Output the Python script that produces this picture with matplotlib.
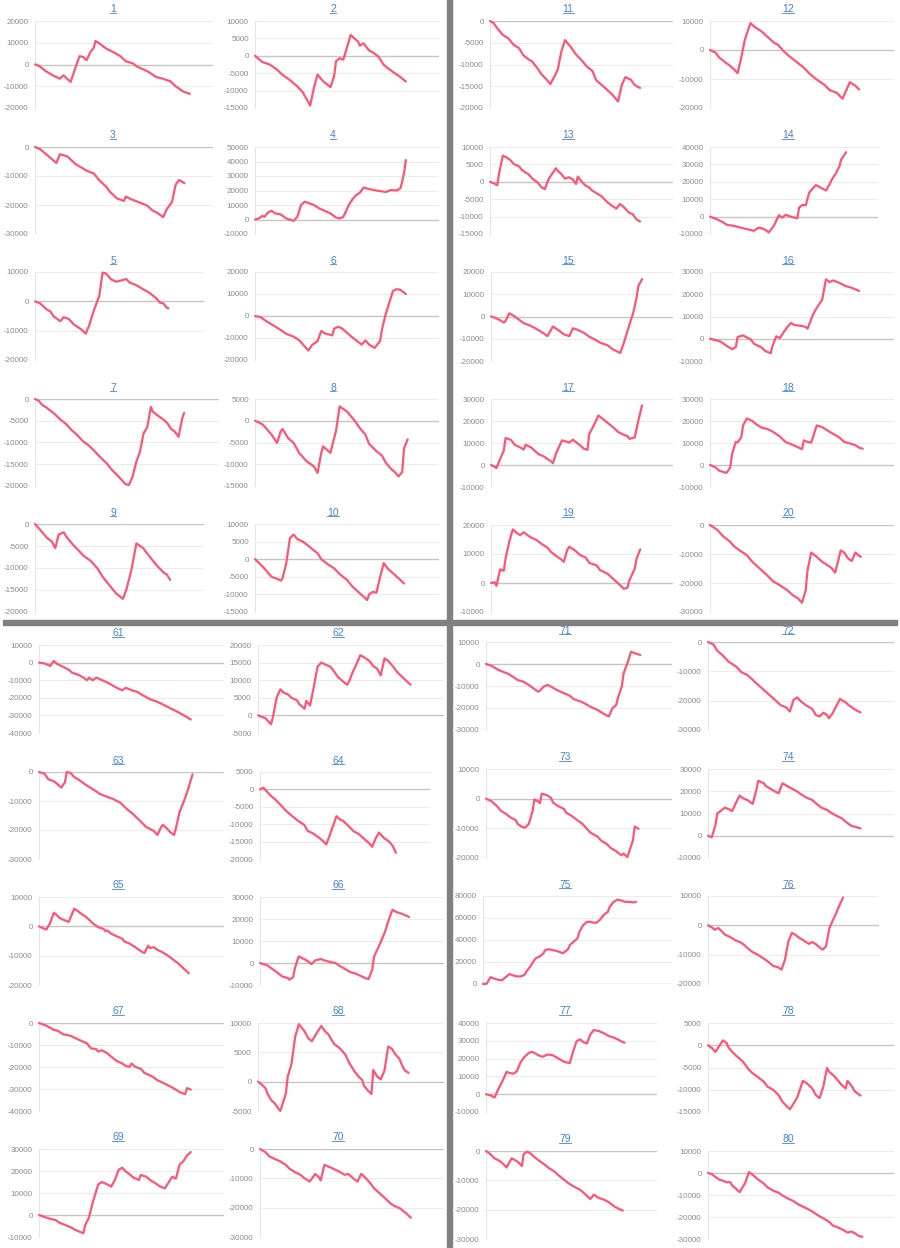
import matplotlib
matplotlib.use("Agg")
import matplotlib.pyplot as plt
from matplotlib.patches import Rectangle
from matplotlib.lines import Line2D

# --- DATA: cumulative P/L per account, (trade position 0-100, value) at turning points ---
t1 = [0, 2, 6, 10, 14, 16, 18, 20, 24, 25, 27, 29, 31, 33, 34, 36, 40, 44, 48, 51, 55, 57, 61, 64, 68, 72, 76, 79, 83, 87]
v1 = [0, -500, -3000, -5000, -6500, -5000, -6500, -8000, 1500, 3800, 3500, 2000, 5500, 7700, 10800, 9800, 7300, 5700, 3800, 1500, 500, -800, -2300, -3500, -5700, -6600, -7700, -10000, -12300, -13500]
t2 = [0, 4, 8, 12, 15, 19, 23, 26, 30, 32, 34, 37, 41, 43, 44, 46, 48, 52, 54, 56, 57, 59, 62, 64, 67, 70, 72, 76, 79, 82]
v2 = [0, -1800, -2500, -4000, -5500, -7000, -8800, -10500, -14300, -9200, -5400, -7300, -9000, -5900, -1600, -700, -1100, 6000, 5000, 4100, 2900, 3600, 1500, 1000, -200, -2600, -3500, -5000, -6100, -7400]
t3 = [0, 3, 8, 12, 14, 18, 20, 23, 27, 29, 33, 36, 40, 42, 46, 50, 51, 54, 59, 63, 66, 69, 72, 74, 77, 79, 81, 84]
v3 = [0, -800, -3400, -5500, -2500, -3200, -4300, -6000, -7400, -8200, -9100, -11400, -13700, -15400, -17700, -18600, -17100, -18000, -19200, -20200, -21900, -22800, -24200, -21500, -18900, -13000, -11400, -12500]
t4 = [0, 2, 4, 5, 7, 9, 11, 14, 17, 21, 23, 25, 27, 32, 35, 41, 44, 46, 48, 51, 53, 55, 57, 59, 62, 66, 71, 74, 77, 79, 80, 81, 82]
v4 = [0, 700, 2500, 1800, 4800, 6000, 4200, 3500, 700, -900, 1800, 10000, 12300, 10000, 7600, 4200, 1400, 700, 1800, 10000, 14000, 16800, 18500, 22000, 21000, 20000, 19000, 20300, 20000, 21500, 26000, 32000, 41000]
t5 = [0, 3, 7, 9, 11, 15, 17, 20, 23, 27, 30, 32, 35, 38, 40, 42, 45, 48, 51, 54, 56, 60, 64, 68, 72, 74, 76, 78, 79]
v5 = [0, -700, -2800, -3400, -5100, -6800, -5400, -6000, -7900, -9400, -11000, -8300, -2800, 1800, 9800, 9500, 7500, 6700, 7100, 7600, 6400, 5500, 4100, 2800, 900, -500, -700, -2200, -2400]
t6 = [0, 3, 6, 10, 14, 17, 21, 24, 29, 31, 34, 36, 38, 42, 43, 45, 47, 50, 52, 55, 58, 60, 62, 65, 68, 69, 71, 73, 75, 77, 79, 82]
v6 = [0, -500, -2300, -4300, -6400, -8100, -9400, -11000, -15700, -13200, -11400, -6800, -7900, -8800, -5800, -4900, -5500, -7600, -9100, -11100, -13000, -11100, -13000, -14500, -11400, -6100, 800, 6100, 11400, 12200, 11900, 10000]
t7 = [0, 2, 4, 6, 10, 14, 17, 20, 23, 26, 29, 32, 35, 39, 42, 44, 46, 49, 51, 53, 55, 57, 59, 61, 63, 64, 67, 70, 72, 74, 76, 78, 80, 81]
v7 = [0, -400, -1400, -1900, -3200, -4800, -5800, -7200, -8300, -9700, -10600, -11800, -13200, -14800, -16400, -17200, -18100, -19500, -19800, -17900, -14500, -12200, -7900, -6500, -1800, -2900, -3900, -4800, -5600, -6900, -7500, -8700, -4500, -3200]
t8 = [0, 4, 6, 9, 12, 14, 15, 18, 21, 24, 28, 32, 34, 36, 37, 40, 41, 43, 44, 46, 48, 50, 52, 54, 57, 60, 62, 66, 69, 71, 74, 76, 78, 80, 81, 83]
v8 = [0, -800, -1700, -3200, -5100, -2400, -1900, -4000, -5100, -7400, -9300, -10500, -12000, -7400, -5900, -7000, -7400, -4000, -2400, 3300, 2700, 2100, 1100, 100, -1700, -3200, -5300, -7000, -8000, -9600, -11100, -11800, -12800, -11800, -6300, -4300]
t9 = [0, 3, 7, 10, 12, 14, 17, 19, 22, 25, 29, 33, 37, 40, 44, 48, 52, 54, 57, 60, 64, 68, 72, 76, 78, 80]
v9 = [0, -1300, -3100, -4000, -5500, -2400, -1900, -3100, -4500, -5700, -7300, -8400, -10100, -12000, -13900, -15800, -17000, -15000, -10500, -4400, -5500, -7500, -9400, -11000, -11500, -12700]
t10 = [0, 4, 6, 9, 13, 14, 15, 17, 19, 21, 23, 26, 29, 32, 34, 36, 40, 43, 46, 50, 53, 57, 61, 62, 64, 66, 68, 70, 72, 75, 78, 81]
v10 = [0, -2000, -3200, -5000, -5800, -6100, -5400, -1100, 6000, 7000, 5700, 5000, 3800, 2500, 1700, 0, -1600, -2600, -4200, -5900, -7800, -9700, -11600, -10000, -9300, -9500, -5000, -1100, -2600, -4000, -5400, -6900]
t11 = [0, 2, 4, 5, 7, 10, 13, 16, 18, 21, 23, 26, 28, 31, 33, 35, 37, 39, 41, 44, 47, 50, 53, 56, 58, 61, 64, 67, 70, 72, 74, 77, 79, 82]
v11 = [0, -500, -1700, -2200, -3200, -4000, -5500, -6300, -7800, -8800, -9300, -10900, -12200, -13500, -14500, -12900, -11200, -7000, -4400, -5900, -7700, -9000, -10500, -11500, -13600, -14700, -15800, -17000, -18500, -14700, -12900, -13500, -14700, -15400]
t12 = [0, 3, 5, 8, 11, 13, 15, 17, 19, 22, 24, 28, 32, 35, 37, 40, 43, 47, 51, 54, 58, 62, 65, 69, 72, 76, 79, 81]
v12 = [0, -900, -2600, -4100, -5500, -6600, -8000, -2600, 3700, 9300, 8100, 6400, 4100, 2400, 1800, -400, -2100, -4100, -6100, -8100, -10200, -11900, -13800, -14800, -16800, -11100, -12300, -13600]
t13 = [0, 2, 4, 5, 7, 9, 11, 13, 16, 17, 19, 21, 23, 26, 28, 30, 32, 36, 37, 39, 41, 43, 45, 47, 48, 50, 52, 54, 56, 58, 61, 64, 67, 69, 71, 73, 76, 78, 80, 82]
v13 = [0, -400, -1000, 2500, 7500, 7000, 6300, 5100, 4400, 3600, 2800, 2200, 1000, -200, -1500, -2100, 800, 3900, 3200, 2200, 900, 1300, 800, -600, 1500, 100, -1000, -1600, -2600, -3200, -4200, -5800, -7000, -7700, -6400, -7200, -8900, -9300, -10800, -11400]
t14 = [0, 4, 8, 10, 14, 18, 22, 26, 29, 31, 33, 35, 38, 41, 43, 45, 48, 52, 53, 55, 57, 59, 61, 63, 65, 69, 71, 73, 75, 77, 78, 81]
v14 = [0, -1500, -3400, -4700, -5300, -6300, -7200, -8200, -6300, -6800, -7600, -9100, -5300, 800, -600, 1000, 0, -1000, 5100, 6700, 6500, 13700, 16000, 18100, 17100, 15000, 18300, 22100, 25000, 28800, 32600, 37000]
t15 = [0, 2, 5, 7, 8, 10, 12, 15, 18, 21, 23, 26, 29, 31, 34, 37, 40, 43, 45, 47, 51, 54, 57, 60, 64, 67, 71, 73, 75, 77, 78, 80, 81, 83]
v15 = [0, -500, -1700, -2700, -2000, 1400, 600, -1200, -3000, -3900, -4700, -6100, -7600, -8800, -4500, -6100, -8000, -8800, -5300, -5800, -7300, -9100, -10300, -11800, -12900, -14800, -16400, -11800, -6500, -1200, 1100, 8500, 13800, 16800]
t16 = [0, 4, 6, 9, 12, 14, 15, 18, 20, 22, 24, 28, 30, 33, 34, 36, 38, 40, 42, 44, 46, 49, 52, 53, 56, 58, 61, 63, 65, 67, 70, 72, 74, 77, 81]
v16 = [0, -800, -1400, -3200, -4700, -3800, 800, 1500, 600, -200, -2300, -3900, -5500, -6500, -3200, 1100, 300, 2900, 5200, 7100, 6100, 5900, 5300, 4500, 10900, 13900, 17600, 26700, 25500, 26200, 25200, 24400, 23600, 22900, 21500]
t17 = [0, 2, 3, 5, 7, 8, 11, 13, 16, 18, 19, 22, 24, 26, 29, 31, 33, 34, 36, 39, 42, 43, 45, 47, 49, 51, 53, 54, 56, 59, 62, 64, 67, 70, 73, 75, 76, 78, 79, 81, 83]
v17 = [0, -800, -1400, 2700, 6500, 12300, 11400, 9200, 8000, 7000, 9200, 8000, 6500, 5000, 3900, 2700, 1700, 800, 5800, 11200, 10500, 10200, 11500, 10200, 8900, 7400, 6900, 14200, 17200, 22500, 20600, 19200, 17200, 14900, 13700, 13100, 11900, 12300, 12600, 20300, 27100]
t18 = [0, 3, 5, 9, 11, 12, 14, 15, 17, 18, 20, 23, 25, 28, 31, 34, 36, 38, 41, 43, 46, 50, 51, 53, 55, 56, 58, 61, 63, 66, 69, 71, 73, 76, 79, 81, 83]
v18 = [0, -1100, -2600, -3600, -1100, 5000, 10500, 10200, 12700, 18000, 21200, 20000, 18600, 17000, 16400, 15200, 14100, 12900, 10500, 9800, 8800, 7200, 11200, 10500, 10200, 12700, 18000, 17200, 16100, 14600, 13200, 12000, 10500, 9800, 9000, 7900, 7400]
t19 = [0, 2, 3, 5, 7, 8, 10, 12, 14, 16, 18, 20, 22, 25, 28, 31, 33, 36, 38, 40, 42, 43, 46, 49, 52, 54, 58, 60, 64, 67, 70, 73, 75, 76, 79, 80, 82]
v19 = [0, 300, -1000, 4700, 4200, 8400, 14200, 18500, 17300, 16500, 17500, 16500, 15700, 14800, 13400, 12200, 10700, 9200, 8400, 7300, 11600, 12500, 11300, 9600, 8800, 6900, 6100, 4400, 3200, 1500, -200, -2000, -1600, 900, 5000, 8400, 11600]
t20 = [0, 4, 7, 11, 13, 16, 20, 23, 27, 31, 34, 38, 42, 45, 48, 50, 52, 53, 55, 58, 61, 63, 66, 68, 70, 71, 73, 75, 77, 79, 81, 82]
v20 = [0, -1700, -3800, -5800, -7300, -8700, -10400, -12700, -15000, -17300, -19300, -20800, -22500, -24200, -25400, -26800, -22500, -15600, -9500, -11000, -12700, -13500, -14800, -16400, -11500, -8800, -9500, -11500, -12400, -9500, -10600, -11000]
t61 = [0, 3, 6, 8, 10, 13, 16, 18, 21, 24, 26, 27, 29, 31, 35, 38, 42, 45, 47, 50, 53, 56, 60, 64, 67, 71, 74, 78, 82]
v61 = [0, -500, -1900, 900, -900, -2400, -4000, -5800, -6800, -8500, -10000, -8500, -10000, -8500, -10400, -11900, -14300, -15700, -14300, -15700, -16600, -18500, -20800, -22300, -23800, -26000, -27500, -29800, -32300]
t62 = [0, 4, 7, 8, 10, 12, 14, 16, 18, 21, 22, 25, 26, 28, 30, 32, 34, 36, 39, 41, 43, 46, 48, 49, 51, 53, 55, 57, 60, 62, 64, 66, 68, 70, 73, 75, 78, 80, 82]
v62 = [0, -800, -2500, -500, 5000, 7400, 6400, 6000, 5000, 4300, 3300, 1900, 4100, 2800, 8100, 13800, 15000, 14500, 13800, 12400, 10900, 9500, 8700, 9700, 12400, 14600, 17100, 16500, 15400, 14000, 13300, 11400, 16200, 15500, 13600, 12200, 10700, 9700, 8700]
t63 = [0, 3, 5, 8, 10, 12, 14, 15, 17, 19, 22, 25, 27, 30, 33, 37, 40, 44, 47, 51, 55, 58, 62, 64, 66, 67, 69, 71, 73, 74, 76, 78, 79, 81, 83]
v63 = [0, -600, -2500, -3200, -4200, -5400, -3600, 0, -300, -1700, -2900, -4300, -5100, -6300, -7600, -8600, -9300, -10600, -12500, -14600, -17100, -19000, -20300, -21700, -19000, -18200, -19400, -20800, -21700, -19400, -13700, -10600, -8900, -5100, -800]
t64 = [0, 2, 4, 6, 9, 12, 15, 18, 22, 26, 28, 31, 34, 37, 39, 41, 45, 47, 49, 52, 55, 58, 61, 64, 66, 68, 70, 73, 76, 78, 80]
v64 = [0, 500, -600, -1700, -2900, -4400, -6000, -7300, -8900, -10200, -11900, -12600, -13600, -14800, -15800, -13200, -7700, -8600, -9100, -10500, -12000, -12800, -14100, -15400, -16500, -14100, -12400, -14000, -15000, -16200, -18200]
t65 = [0, 2, 4, 6, 8, 9, 11, 13, 16, 17, 19, 21, 23, 25, 27, 29, 32, 35, 36, 37, 39, 42, 45, 46, 49, 52, 54, 56, 57, 59, 60, 62, 64, 66, 69, 71, 73, 75, 78, 81]
v65 = [0, -600, -1100, 1100, 4600, 4200, 2900, 2300, 1500, 2900, 6000, 5200, 4200, 3400, 2300, 1100, -300, -900, -1700, -1400, -2500, -3400, -4200, -5100, -5900, -7100, -8000, -8800, -9100, -6600, -7400, -7100, -8000, -8600, -9700, -10600, -11600, -12500, -14300, -16000]
t66 = [0, 4, 6, 9, 12, 15, 16, 18, 19, 21, 24, 26, 28, 30, 33, 35, 38, 41, 43, 46, 49, 52, 54, 57, 59, 61, 62, 65, 68, 70, 72, 74, 77, 79, 81]
v66 = [0, -1100, -2300, -4100, -6100, -6800, -7600, -6400, -2300, 3000, 1800, 800, -500, 1200, 1800, 1200, 500, 0, -1200, -2600, -4100, -4800, -5600, -6800, -7300, -3000, 3000, 8300, 14400, 19700, 24200, 23200, 22400, 21700, 20900]
t67 = [0, 4, 8, 10, 13, 17, 19, 22, 26, 28, 31, 32, 34, 37, 39, 42, 45, 47, 49, 50, 52, 55, 57, 61, 64, 68, 72, 74, 76, 79, 80, 82]
v67 = [0, -1200, -3100, -3500, -5100, -5800, -6600, -7800, -9300, -11500, -11900, -13000, -12400, -13800, -15300, -17300, -18400, -19600, -19900, -18400, -19900, -20800, -22700, -24200, -26000, -27600, -29300, -30300, -31400, -32300, -29600, -30300]
t68 = [0, 2, 4, 5, 7, 9, 11, 12, 13, 15, 16, 18, 20, 22, 23, 25, 27, 29, 31, 34, 36, 38, 39, 41, 44, 47, 49, 52, 54, 56, 57, 59, 61, 62, 64, 66, 68, 70, 72, 74, 76, 78, 79, 81]
v68 = [0, -500, -1100, -2000, -3100, -3700, -4600, -5000, -4000, -2000, 900, 3000, 7700, 9800, 9400, 8600, 7400, 6900, 8000, 9500, 8600, 8000, 7400, 6400, 5700, 4600, 3200, 1700, 900, 300, -700, -1500, -2100, 2000, 900, 400, 1900, 6000, 5600, 4600, 3900, 2400, 1900, 1500]
t69 = [0, 3, 6, 9, 11, 14, 17, 19, 22, 24, 25, 27, 29, 32, 34, 37, 39, 41, 43, 45, 47, 49, 51, 54, 55, 58, 60, 63, 65, 68, 70, 72, 74, 76, 78, 80, 82]
v69 = [0, -900, -1700, -2300, -3500, -4500, -5500, -6500, -7600, -8300, -4500, -1200, 5600, 13900, 15000, 13900, 12900, 15900, 20500, 21500, 19700, 18500, 17000, 15900, 18200, 17400, 15900, 14400, 13200, 12100, 14700, 17400, 16500, 22900, 24400, 27000, 28600]
t70 = [0, 3, 5, 8, 11, 14, 16, 19, 22, 24, 27, 30, 32, 33, 35, 38, 41, 43, 46, 48, 51, 53, 55, 57, 60, 62, 65, 68, 71, 73, 76, 79, 82]
v70 = [0, -1100, -2500, -3400, -4200, -5400, -6700, -7900, -8800, -9900, -11100, -8500, -9600, -10700, -5400, -6200, -7100, -7700, -8800, -8500, -10200, -11100, -8500, -9600, -11700, -13400, -15100, -16800, -18600, -19400, -20200, -21700, -23400]
t71 = [0, 3, 6, 9, 12, 15, 17, 20, 23, 26, 28, 29, 31, 33, 35, 38, 42, 45, 47, 51, 53, 56, 60, 62, 66, 68, 70, 71, 73, 74, 76, 78, 79, 83]
v71 = [0, -800, -2400, -3500, -4500, -6100, -7300, -8000, -9500, -11400, -12600, -12100, -10300, -9500, -10300, -11800, -13300, -14400, -15900, -17100, -17900, -19400, -20900, -22000, -23900, -20100, -18600, -15100, -10300, -4200, 300, 5600, 5200, 4100]
t72 = [0, 3, 5, 8, 11, 13, 15, 18, 21, 23, 25, 28, 31, 34, 37, 39, 42, 44, 46, 48, 50, 53, 56, 58, 60, 62, 64, 65, 67, 69, 71, 74, 75, 78, 80, 82]
v72 = [0, -900, -3000, -4600, -6700, -7500, -8300, -10300, -11200, -12300, -13500, -15200, -16900, -18600, -20300, -21500, -22300, -23700, -19700, -18900, -20300, -21700, -22800, -24900, -25400, -24100, -24900, -26000, -24300, -21800, -19400, -20600, -21200, -22600, -23400, -24000]
t73 = [0, 3, 6, 8, 11, 13, 16, 17, 19, 21, 23, 25, 26, 28, 29, 30, 33, 35, 36, 39, 42, 43, 46, 49, 52, 54, 56, 60, 62, 65, 67, 70, 71, 73, 74, 76, 79, 80, 82]
v73 = [0, -900, -2600, -4100, -5200, -6300, -7200, -8500, -9400, -9800, -8500, -4300, -300, -900, -1500, 1700, 1100, 200, -1300, -2600, -3500, -4700, -5800, -7200, -8600, -10000, -11400, -12800, -14200, -15300, -16600, -17700, -18300, -19100, -18500, -19700, -14000, -9400, -10200]
t74 = [0, 2, 4, 5, 7, 9, 11, 13, 15, 17, 19, 21, 22, 24, 26, 27, 30, 31, 34, 36, 38, 40, 42, 45, 48, 50, 53, 56, 58, 61, 64, 66, 69, 72, 74, 77, 80, 82]
v74 = [0, -700, 4800, 10000, 11300, 12600, 12000, 11100, 14800, 18000, 16800, 16100, 15600, 14300, 20600, 24700, 23600, 22400, 20900, 19900, 19100, 23600, 22600, 21200, 19900, 18600, 17100, 16100, 14600, 12600, 11600, 10400, 9000, 7800, 6300, 4500, 3800, 3300]
t75 = [0, 2, 4, 5, 8, 10, 12, 14, 16, 18, 20, 22, 23, 25, 27, 28, 30, 32, 33, 35, 38, 40, 42, 43, 45, 46, 48, 50, 51, 53, 55, 57, 58, 60, 62, 64, 66, 67, 69, 71, 73, 75, 78, 80, 81]
v75 = [0, 300, 6300, 5400, 3900, 3300, 6300, 9000, 7800, 6900, 6900, 8400, 11400, 15900, 21400, 23500, 25000, 28000, 31000, 31600, 30400, 29500, 28000, 28900, 31600, 35500, 38500, 41500, 47500, 53500, 56500, 56500, 55900, 55600, 58600, 63100, 65500, 70000, 74500, 76600, 76000, 74800, 74500, 74200, 74800]
t76 = [0, 2, 4, 6, 8, 10, 13, 16, 19, 21, 23, 26, 29, 32, 35, 38, 41, 43, 45, 47, 49, 51, 53, 56, 59, 61, 63, 65, 67, 69, 71, 73, 75, 77, 79]
v76 = [0, -600, -1500, -900, -2000, -3200, -4000, -5100, -5800, -6600, -7700, -9100, -10000, -11100, -12300, -13800, -14300, -15100, -11700, -5500, -2600, -3200, -4100, -5200, -6300, -5700, -6400, -7400, -8300, -7200, -900, 1700, 4200, 7000, 9500]
t77 = [0, 3, 5, 7, 10, 12, 14, 16, 18, 20, 22, 25, 27, 29, 31, 33, 36, 39, 41, 44, 46, 49, 51, 53, 55, 57, 59, 61, 63, 66, 69, 72, 75, 77, 79, 81]
v77 = [0, -800, -1900, 2500, 8100, 12500, 11900, 11500, 12800, 17500, 20400, 23200, 23800, 22800, 21700, 21000, 22300, 21900, 20800, 19100, 18100, 17500, 24200, 29800, 30800, 29200, 28500, 33600, 36000, 35500, 34200, 32600, 31700, 30800, 29800, 28900]
t78 = [0, 2, 4, 6, 8, 10, 11, 13, 15, 17, 19, 22, 24, 27, 30, 32, 35, 38, 40, 44, 46, 48, 51, 53, 56, 58, 60, 62, 64, 65, 68, 70, 72, 74, 75, 77, 79, 82]
v78 = [0, -600, -1500, -200, 1100, 500, -500, -1500, -2300, -3000, -3800, -5500, -6300, -7200, -8200, -9300, -10000, -11200, -12700, -14400, -13100, -11700, -8000, -8500, -9700, -11200, -11900, -9300, -5100, -5900, -7000, -8000, -9000, -9700, -8000, -9000, -10400, -11300]
t79 = [0, 2, 5, 8, 10, 12, 15, 17, 19, 21, 22, 24, 26, 28, 31, 34, 37, 40, 42, 45, 48, 51, 55, 58, 61, 63, 66, 69, 72, 75, 78, 80]
v79 = [0, -800, -2500, -3400, -4400, -5600, -2500, -3100, -3900, -5100, -1100, -200, -800, -1900, -3300, -4500, -5900, -7000, -8100, -9500, -10900, -12000, -13200, -14700, -16400, -14900, -16000, -16600, -17500, -18900, -19800, -20300]
t80 = [0, 2, 4, 6, 8, 10, 12, 13, 15, 17, 20, 22, 24, 27, 30, 32, 35, 38, 40, 43, 46, 48, 51, 54, 57, 59, 62, 65, 67, 70, 73, 75, 77, 79, 81, 83]
v80 = [0, -500, -1800, -3000, -3500, -4200, -4200, -5700, -7100, -8700, -4500, 400, -800, -3000, -4800, -6500, -8000, -9000, -10200, -11600, -12800, -14000, -15300, -16500, -18000, -19200, -20600, -22100, -23800, -24800, -26000, -27100, -26600, -27400, -28600, -29000]

# --- Y AXIS (min, max, step) ---
y_axis = {
    1: (-20000, 20000, 10000), 2: (-15000, 10000, 5000), 3: (-30000, 0, 10000), 4: (-10000, 50000, 10000),
    5: (-20000, 10000, 10000), 6: (-20000, 20000, 10000), 7: (-20000, 0, 5000), 8: (-15000, 5000, 5000),
    9: (-20000, 0, 5000), 10: (-15000, 10000, 5000),
    11: (-20000, 0, 5000), 12: (-20000, 10000, 10000), 13: (-15000, 10000, 5000), 14: (-10000, 40000, 10000),
    15: (-20000, 20000, 10000), 16: (-10000, 30000, 10000), 17: (-10000, 30000, 10000), 18: (-10000, 30000, 10000),
    19: (-10000, 20000, 10000), 20: (-30000, 0, 10000),
    61: (-40000, 10000, 10000), 62: (-5000, 20000, 5000), 63: (-30000, 0, 10000), 64: (-20000, 5000, 5000),
    65: (-20000, 10000, 10000), 66: (-10000, 30000, 10000), 67: (-40000, 0, 10000), 68: (-5000, 10000, 5000),
    69: (-10000, 30000, 10000), 70: (-30000, 0, 10000),
    71: (-30000, 10000, 10000), 72: (-30000, 0, 10000), 73: (-20000, 10000, 10000), 74: (-10000, 30000, 10000),
    75: (0, 80000, 20000), 76: (-20000, 10000, 10000), 77: (-10000, 40000, 10000), 78: (-15000, 5000, 5000),
    79: (-30000, 0, 10000), 80: (-30000, 10000, 10000),
}

charts = [
    (1, t1, v1), (2, t2, v2), (3, t3, v3), (4, t4, v4), (5, t5, v5),
    (6, t6, v6), (7, t7, v7), (8, t8, v8), (9, t9, v9), (10, t10, v10),
    (11, t11, v11), (12, t12, v12), (13, t13, v13), (14, t14, v14), (15, t15, v15),
    (16, t16, v16), (17, t17, v17), (18, t18, v18), (19, t19, v19), (20, t20, v20),
    (61, t61, v61), (62, t62, v62), (63, t63, v63), (64, t64, v64), (65, t65, v65),
    (66, t66, v66), (67, t67, v67), (68, t68, v68), (69, t69, v69), (70, t70, v70),
    (71, t71, v71), (72, t72, v72), (73, t73, v73), (74, t74, v74), (75, t75, v75),
    (76, t76, v76), (77, t77, v77), (78, t78, v78), (79, t79, v79), (80, t80, v80),
]

# --- LAYOUT: plot box in pixels (left, right, top, bottom) ---
box = {
    1: (35, 213, 21, 108), 2: (255, 439, 21, 108),
    3: (35, 213, 147, 234), 4: (255, 439, 147, 234),
    5: (35, 204, 272, 360), 6: (255, 439, 272, 360),
    7: (35, 219, 399, 486), 8: (255, 439, 399, 486),
    9: (35, 204, 524, 612), 10: (255, 439, 524, 612),
    11: (490, 673, 21, 108), 12: (710, 894, 21, 108),
    13: (490, 673, 147, 234), 14: (710, 878, 147, 234),
    15: (491, 673, 272, 361), 16: (710, 894, 272, 361),
    17: (491, 673, 399, 487), 18: (710, 894, 399, 487),
    19: (491, 673, 525, 612), 20: (710, 894, 525, 612),
    61: (39, 224, 645, 733), 62: (258, 444, 645, 733),
    63: (39, 224, 772, 859), 64: (260, 430, 772, 859),
    65: (39, 224, 897, 985), 66: (260, 444, 897, 985),
    67: (39, 224, 1023, 1111), 68: (258, 444, 1023, 1111),
    69: (39, 224, 1149, 1237), 70: (260, 444, 1149, 1237),
    71: (486, 672, 642, 730), 72: (708, 894, 642, 730),
    73: (486, 672, 769, 858), 74: (708, 894, 769, 858),
    75: (483, 672, 896, 984), 76: (708, 879, 896, 984),
    77: (486, 657, 1023, 1112), 78: (708, 894, 1023, 1112),
    79: (486, 657, 1151, 1239), 80: (708, 894, 1151, 1239),
}

def title_x(n):
    odd = n % 2 == 1
    if n <= 10:
        return 113 if odd else 333
    if n <= 20:
        return 568 if odd else 788
    if n <= 70:
        return 118 if odd else 338
    return 565 if odd else 788

W, H = 900, 1248
LINE_COLOR = '#ff5575'
LINK_BLUE = '#4584e0'

plt.rcParams['font.family'] = ['Liberation Sans', 'DejaVu Sans']
fig = plt.figure(figsize=(W / 100, H / 100), dpi=100)
fig.patch.set_facecolor('white')

titles = []
for num, t, v in charts:
    l, r, top, bot = box[num]
    ax = fig.add_axes([l / W, 1 - bot / H, (r - l) / W, (bot - top) / H])
    lo, hi, step = y_axis[num]
    ticks = list(range(lo, hi + 1, step))

    for k in ticks:
        if k == 0:
            ax.axhline(k, color='#c6c6c6', lw=1.0, zorder=1)
        else:
            ax.axhline(k, color='#ececec', lw=0.8, zorder=1)
    ax.plot(t, v, color=LINE_COLOR, lw=1.6, solid_joinstyle='round',
            solid_capstyle='round', clip_on=False, zorder=3)

    ax.set_xlim(0, 100)
    ax.set_ylim(lo, hi)
    ax.set_xticks([])
    ax.set_yticks(ticks)
    ax.set_yticklabels([str(k) for k in ticks])
    ax.tick_params(axis='y', length=0, pad=4.5, labelsize=5.8, labelcolor='#8c8c8c')
    for s in ['top', 'right', 'bottom']:
        ax.spines[s].set_visible(False)
    ax.spines['left'].set_color('#e6e6e6')
    ax.spines['left'].set_linewidth(0.8)
    ax.patch.set_alpha(0)

    titles.append(fig.text(title_x(num) / W, 1 - (top - 11.5) / H, str(num),
                           ha='center', va='center', fontsize=7.5, color=LINK_BLUE))

# underline the titles (they are links)
fig.canvas.draw()
rend = fig.canvas.get_renderer()
for txt in titles:
    bb = txt.get_window_extent(rend)
    yy = (bb.y0 + 1.2) / H
    fig.add_artist(Line2D([bb.x0 / W, bb.x1 / W], [yy, yy], color=LINK_BLUE, lw=0.6))

# gray separators between the four groups
fig.add_artist(Rectangle((447 / W, 0), 5 / W, 1, transform=fig.transFigure,
                         color='#808080', zorder=10))
fig.add_artist(Rectangle((3 / W, 1 - 625 / H), 894 / W, 5 / H, transform=fig.transFigure,
                         color='#808080', zorder=10))

fig.savefig('out.png', dpi=100)
